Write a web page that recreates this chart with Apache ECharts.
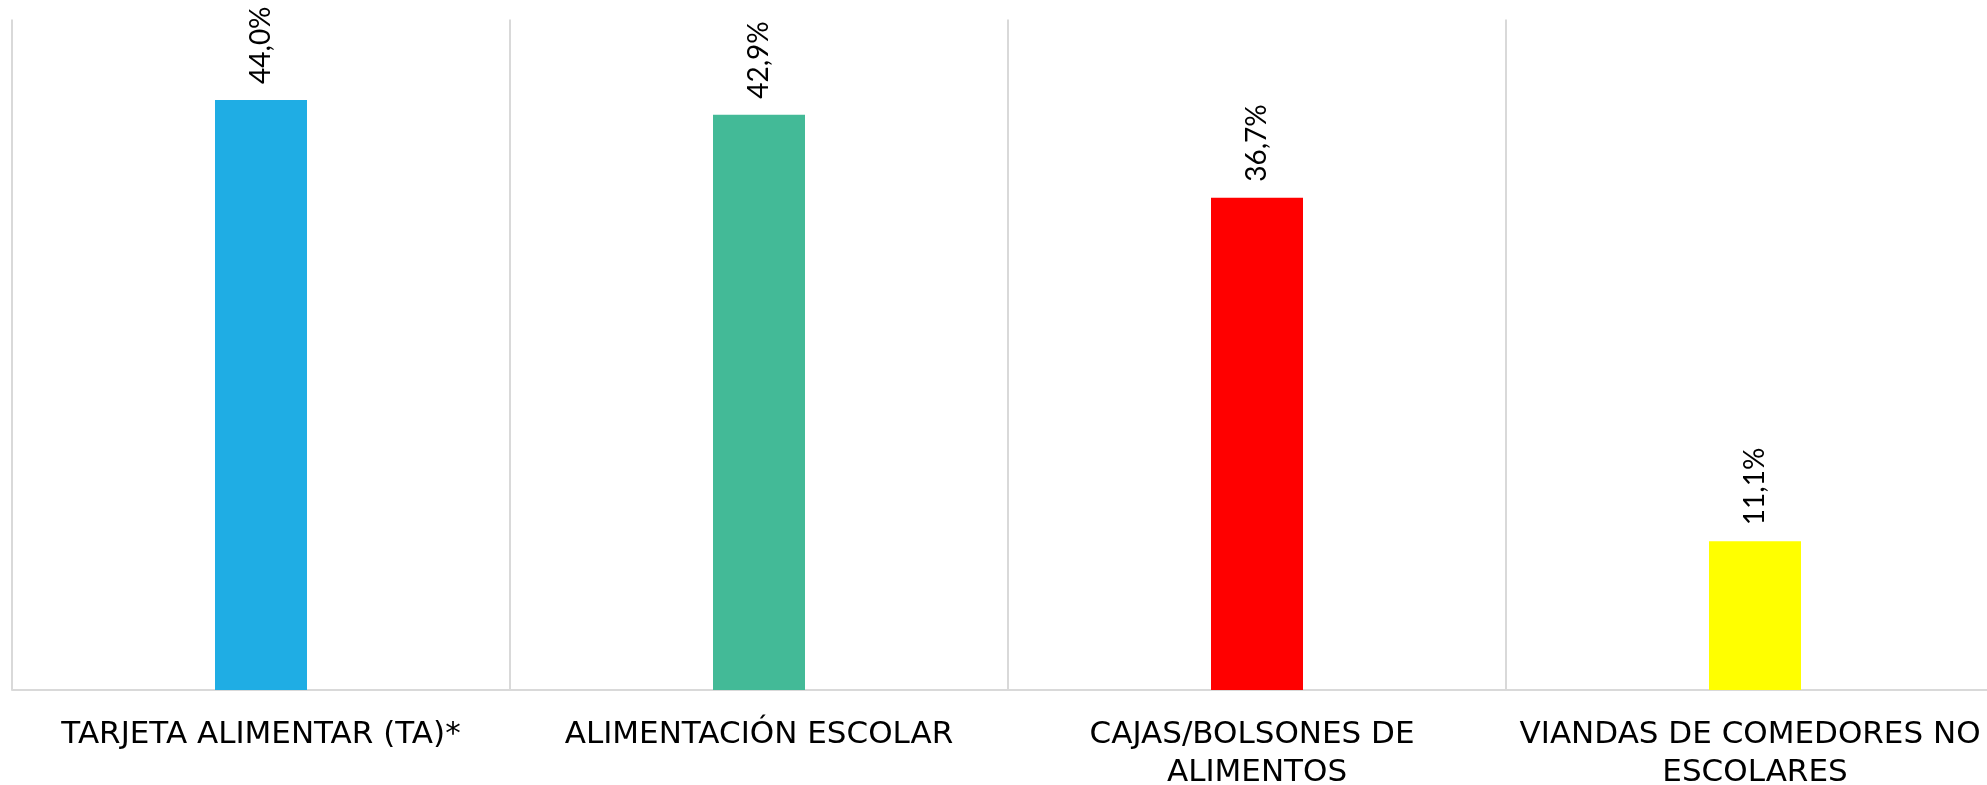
<!DOCTYPE html>
<html>
<head>
<meta charset="utf-8">
<script src="https://cdn.jsdelivr.net/npm/echarts@6/dist/echarts.min.js"></script>
<style>
  html, body { margin: 0; padding: 0; background: #fff; }
  #programas { width: 1987px; height: 785px; }
</style>
</head>
<body>
<div id="programas"></div>
<script>
  // datos
  var categorias = ["TARJETA ALIMENTAR (TA)*", "ALIMENTACIÓN ESCOLAR", "CAJAS/BOLSONES DE ALIMENTOS", "VIANDAS DE COMEDORES NO ESCOLARES"];
  var porcentajes = [44.0, 42.9, 36.7, 11.1];
  var colores = ["#1FADE4", "#43BA97", "#FF0000", "#FFFF00"];

  var myChart = echarts.init(document.getElementById('programas'));

  var option = {
    backgroundColor: "#fff",
    animation: false,
    grid: {
      left: 12,
      width: 1992,
      top: 19.5,
      bottom: 95,
      outerBoundsMode: "none",
      containLabel: false
    },
    xAxis: {
      type: "category",
      data: categorias,
      axisTick: { show: false },
      axisLine: {
        show: true,
        lineStyle: { color: "#d9d9d9", width: 2 }
      },
      splitLine: {
        show: true,
        lineStyle: { color: "#d9d9d9", width: 2 }
      },
      axisLabel: {
        interval: 0,
        margin: 26,
        color: "#000",
        fontFamily: "DejaVu Sans",
        fontSize: 31,
        lineHeight: 38,
        width: 485,
        overflow: "break",
        align: "center"
      }
    },
    yAxis: {
      type: "value",
      min: 0,
      max: 50,
      show: false,
      splitLine: { show: false }
    },
    series: [
      {
        type: "bar",
        data: porcentajes.map(function (v, i) {
          return { value: v, itemStyle: { color: colores[i] } };
        }),
        barWidth: 92,
        label: {
          show: true,
          position: "top",
          distance: 16,
          rotate: 90,
          align: "left",
          verticalAlign: "middle",
          color: "#000",
          fontFamily: "Lato",
          fontSize: 28,
          formatter: function (p) {
            return p.value.toFixed(1).replace(".", ",") + "%";
          }
        }
      }
    ]
  };

  myChart.setOption(option);
</script>
</body>
</html>
